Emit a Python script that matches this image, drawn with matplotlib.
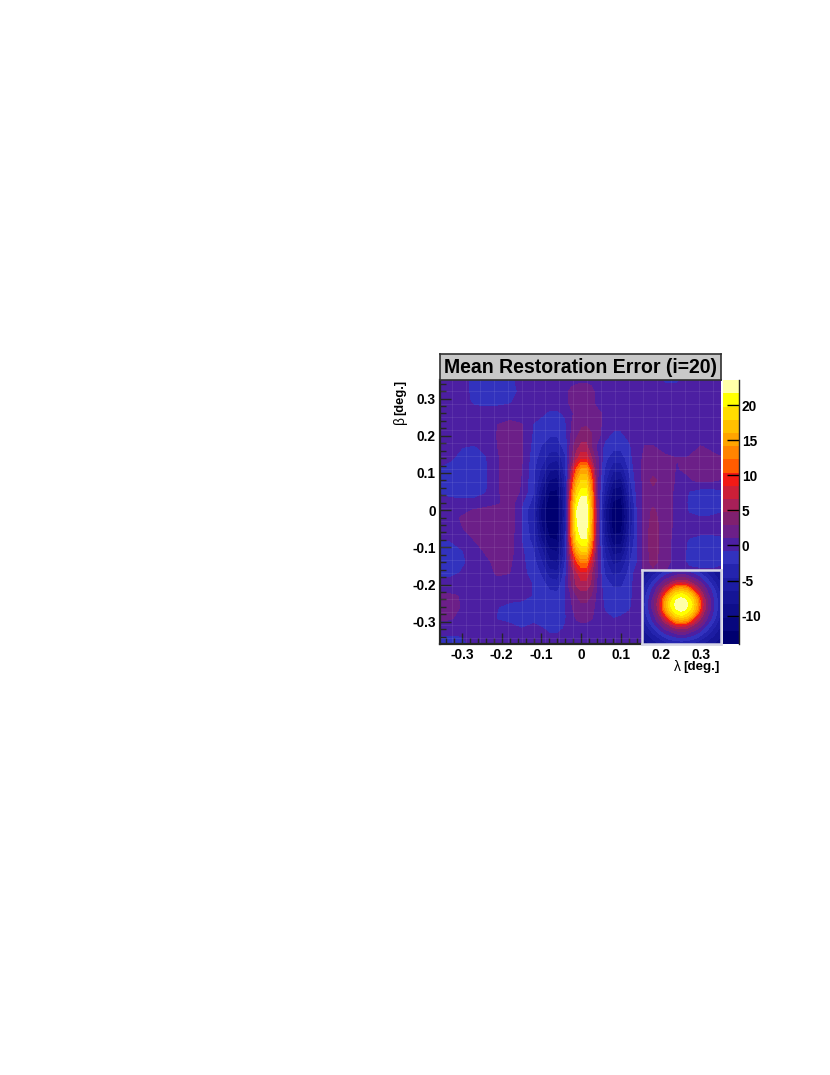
import numpy as np
import matplotlib
matplotlib.use('Agg')
import matplotlib.pyplot as plt
from matplotlib.colors import ListedColormap, BoundaryNorm

plt.rcParams['font.family'] = ['Liberation Sans', 'DejaVu Sans']
plt.rcParams['font.weight'] = 'bold'

W, H = 830, 1075

# colour bands of the palette, low to high
levels = [-14.05, -12.2, -10.3, -8.4, -6.5, -4.6, -2.7, -0.85, 1.0, 2.9, 4.8,
          6.67, 8.55, 10.4, 12.3, 14.2, 16.07, 17.95, 19.8, 21.7, 23.6]
band_colors = ['#000070', '#07077e', '#0e0e8a', '#151596', '#1c1ca2', '#2424ae',
               '#3232be', '#4c1fa2', '#6c1f88', '#80206f', '#a82058',
               '#cc1f38', '#f21a16', '#ff5c00', '#ff8400', '#ffa400', '#ffc000',
               '#ffdd00', '#ffff00', '#ffffa8']

lam = [-0.36, -0.33, -0.30, -0.27, -0.24, -0.21, -0.18, -0.15, -0.12, -0.10, -0.08,
       -0.06, -0.04, -0.025, -0.012, 0.0, 0.012, 0.025, 0.04, 0.06, 0.08, 0.10,
       0.12, 0.14, 0.16, 0.18, 0.21, 0.24, 0.27, 0.30, 0.33, 0.36]
beta = [0.35, 0.32, 0.29, 0.26, 0.23, 0.20, 0.17, 0.14, 0.11, 0.08, 0.05, 0.02, 0.0,
        -0.02, -0.05, -0.08, -0.11, -0.14, -0.17, -0.20, -0.23, -0.26, -0.29, -0.32, -0.36]

# mean error, one row per beta, top to bottom
error = [
    [0, 0, 0, -1.5, -1.8, -1.8, -1.5, 0, 0, 0, 0, 0, 0, 0, .3, .5, .5, .3, 0, 0, 0, 0, 0, 0, 0, 0, -1.2, -1.2, 0, 0, 0, 0],
    [0, 0, 0, -1.5, -1.8, -1.8, -1.5, -.5, 0, 0, 0, 0, .3, 1.6, 2, 2.2, 2.2, 1.6, .3, 0, 0, 0, 0, 0, 0, 0, 0, 0, 0, 0, 0, 0],
    [0, 0, 0, -1.2, -1.4, -1.3, -1, -.3, 0, 0, 0, 0, .3, 1.6, 2, 2.4, 2.4, 1.6, .3, 0, 0, 0, 0, 0, 0, 0, 0, 0, 0, 0, 0, 0],
    [0, 0, 0, 0, 0, 0, 0, 0, 0, -.6, -1.2, -1.2, -.6, .6, 1.6, 2.2, 2.4, 2.4, 1.6, .6, 0, 0, 0, 0, 0, 0, 0, 0, 0, 0, 0, 0],
    [0, 0, 0, 0, 0, 1.0, 1.6, 1.1, -1.0, -1.5, -1.8, -1.8, -1.2, 1, 1.8, 2.6, 2.8, 2.6, 1.8, .2, -.4, -.4, 0, 0, 0, 0, 0, 0, 0, 0, 0, 0],
    [0, 0, 0, 0, 0, 1.1, 1.8, 1.2, -1.2, -2, -2.6, -2.6, -1.6, 1.2, 2.6, 3.5, 3.6, 3, 1.8, -.5, -1.2, -1.2, -.5, 0, 0, 0, 0, 0, 0, 0, 0, 0],
    [0, 0, -.8, -1, -.5, 1.0, 1.9, 1.3, -1.6, -2.8, -3.8, -3.8, -2, 2, 4, 5.5, 5.5, 3, .5, -1.4, -2.2, -2.2, -1.2, 0, 1.1, 1.1, .3, 0, .2, 1.1, .6, 0],
    [0, -.6, -1.4, -1.5, -1, .8, 2, 1.2, -2, -3.6, -5.5, -6, -3, 2.5, 6, 8, 8, 5, 1.5, -2.2, -3.8, -3.8, -1.6, .3, 1.4, 1.8, 1.4, 1.0, 1.1, 1.6, 1.4, 1],
    [-1, -1.5, -1.9, -1.9, -1.2, .8, 2, 1, -2.2, -5, -8, -8.5, -3.5, 5, 11, 14.5, 14.5, 9, 1.5, -3, -6, -6, -2.4, .2, 1.6, 1.9, 1.6, .9, 1.3, 1.8, 1.8, 1.5],
    [-1.2, -1.7, -2, -2, -1.2, .8, 2, .9, -2.4, -6.5, -10.5, -11, -4, 7.5, 15, 18, 18, 12, 1.5, -4, -8.5, -9, -3.4, 0, 1.6, 3.4, 1.8, .8, .8, 1.4, 1.2, .7],
    [-1.1, -1.5, -1.9, -1.9, -1, .8, 2, .8, -2.6, -8.5, -12.3, -12.5, -4.5, 10, 18, 20.5, 20.5, 14, 1.5, -5.5, -11, -11.5, -4.5, -.3, 1.7, 2.4, 1.8, .6, -.9, -1.6, -1.6, -1],
    [0, -.3, -.3, -.3, 0, .6, 2, -.6, -3.5, -10, -13.3, -13.5, -5, 11.5, 20.5, 23, 23, 15, 2, -7, -12.5, -12.8, -6, -.7, 1.8, 2.4, 1.8, .5, -1.1, -1.8, -1.8, -1.2],
    [0, 0, .4, 1.1, 1.6, 2, 2.2, -1, -4.5, -11, -13.7, -13.7, -5, 12, 21.5, 23.5, 23.5, 16, 2, -8, -13.3, -13.3, -7, -1, 1.8, 3.2, 1.8, .5, -1, -1.6, -1.6, -1],
    [0, .2, 1.2, 1.9, 2.1, 2.3, 2.4, -1, -4.5, -11, -13.7, -13.7, -5, 12, 21.5, 23.5, 23.5, 16, 2, -8, -13.4, -13.4, -7.2, -1, 1.9, 3.4, 2, .5, -.6, -.8, -.6, -.3],
    [0, 0, .9, 1.7, 2.1, 2.3, 2.2, -1, -4, -10, -13.2, -13.3, -4.5, 12, 21, 23, 23, 15.5, 2, -7.5, -13, -12.8, -6.5, -1, 2, 3.8, 2, .3, 0, 0, 0, 0],
    [-.9, -.8, .2, 1, 1.8, 2.2, 2, -.9, -3.5, -8.5, -12, -12.3, -4, 11, 19.5, 21.5, 21.5, 14, 2, -6.5, -11.5, -11.2, -5.5, -1, 2, 3.8, 1.8, .2, -1.0, -1.6, -1.6, -1.2],
    [-1.5, -1.6, -1, .2, 1.2, 1.9, 1.7, -.5, -2.6, -6, -10, -10.5, -3, 8, 15, 18, 18, 11, 1.5, -5, -9, -9, -4, -1, 2, 3.8, 1.8, .2, -1.2, -1.8, -1.8, -1.4],
    [-1.8, -1.9, -1.2, -.2, .6, 1.5, 1.3, -.4, -2, -4.5, -8, -8.5, -2.5, 5, 10, 12.5, 12.5, 7.5, 1.5, -4, -7, -6.5, -3, -1, 1.8, 3.6, 1.6, .2, -1.2, -1.6, -1.6, -1.2],
    [-1.5, -1.4, -.7, 0, .4, 1.2, 1, -.4, -1.5, -3, -5.5, -6, -1.5, 3.5, 6, 8, 8, 5, 1, -3, -5, -4.5, -2.2, .2, 1.5, 2, 1, 0, -.3, -.3, -.3, 0],
    [0, 0, 0, 0, 0, .3, .3, 0, -1, -1.8, -3.5, -3.8, -1, 3, 5, 6, 6, 4.5, .6, -2, -3, -3, -1.6, 0, 0, 0, 0, 0, 0, 0, 0, 0],
    [1.2, 1.2, .9, 0, 0, 0, 0, -.2, -1, -1.4, -1.9, -2.1, -1, 1.2, 2.8, 3.8, 3.8, 2.8, .4, -1.4, -2, -2, -1.4, 0, 0, 0, 0, 0, 0, 0, 0, 0],
    [1.5, 1.5, .9, 0, 0, -.8, -1.4, -1.6, -1.7, -1.7, -1.7, -1.7, -1, .8, 1.8, 2.4, 2.4, 1.8, .3, -1.2, -1.6, -1.6, -1.2, 0, 0, 0, 0, 0, 0, 0, 0, 0],
    [1.3, 1.2, .5, 0, 0, -1, -1.6, -1.7, -1.7, -1.7, -1.7, -1.7, -1, .3, 1.2, 1.6, 1.6, 1.2, 0, -.4, -.9, -.7, -.3, 0, 0, 0, 0, 0, 0, 0, 0, 0],
    [0, 0, 0, 0, 0, -.2, 0, -.8, 0, -.7, -1.2, -1.2, -.7, 0, 0, 0, 0, 0, 0, 0, 0, 0, 0, 0, 0, 0, 0, 0, 0, 0, 0, 0],
    [-2, -2, -1.8, 0, 0, 0, 0, 0, 0, 0, 0, 0, 0, 0, 0, 0, 0, 0, 0, 0, 0, 0, 0, 0, 0, 0, 0, 0, 0, 0, 0, 0],
]

# one quadrant of the inset PSF, from the centre outwards
psf_quadrant = [
    [23.5, 22.3, 19.9, 15, 7, 2.9, -.6, -3.3, -5.9],
    [22.3, 21.4, 18.8, 14, 6.5, 2.4, -.8, -3.5, -6],
    [19.9, 18.8, 15.7, 9.5, 4.7, 1, -1.4, -4, -6.3],
    [15, 14, 9.5, 5.8, 2.9, -.1, -2.3, -5, -6.9],
    [7, 6.5, 4.7, 2.9, .3, -1.6, -4, -6, -7.7],
    [2.9, 2.4, 1, -.1, -1.6, -3.5, -5.4, -7, -8.5],
    [-.6, -.8, -1.4, -2.3, -4, -5.4, -6.8, -8.1, -9.2],
    [-3.3, -3.5, -4, -5, -6, -7, -8.1, -9, -10],
    [-5.9, -6, -6.3, -6.9, -7.7, -8.5, -9.2, -10, -10.5],
]
psf_offset = [0, 5.4, 10.8, 16.2, 21.6, 27, 32.4, 37.8, 43.2]

x_ticks = [-0.3, -0.2, -0.1, 0, 0.1, 0.2, 0.3]
y_ticks = [-0.3, -0.2, -0.1, 0, 0.1, 0.2, 0.3]
x_labels = ['-0.3', '-0.2', '-0.1', '0', '0.1', '0.2', '0.3']
y_labels = ['-0.3', '-0.2', '-0.1', '0', '0.1', '0.2', '0.3']
minor_ticks = [i / 100 for i in range(-34, 36, 2)]
bar_ticks = [-10, -5, 0, 5, 10, 15, 20]
bar_labels = ['-10', '-5', '0', '5', '10', '15', '20']
seam_x = [-0.325, -0.29, -0.255, -0.22, -0.185, -0.15, -0.12, -0.09, -0.055, -0.02, 0.015, 0.05, 0.085,
          0.12, 0.155, 0.19, 0.225, 0.26, 0.295, 0.33]
seam_y = [0.32, 0.285, 0.25, 0.215, 0.18, 0.145, 0.11, 0.075, 0.04, 0.005, -0.03, -0.065, -0.10, -0.135,
          -0.17, -0.205, -0.24, -0.275, -0.31, -0.345]


def box(left, top, right, bottom):
    return [left / W, 1 - bottom / H, (right - left) / W, (bottom - top) / H]


dark = '#262626'
cmap = ListedColormap(band_colors)
norm = BoundaryNorm(levels, cmap.N)
label_size = 9.9

fig = plt.figure(figsize=(W / 100, H / 100), dpi=100, facecolor='white')

ax = fig.add_axes(box(440, 380, 721, 644))
ax.contourf(lam, beta, error, levels=levels, colors=band_colors)
for v in seam_x:
    ax.axvline(v, color='white', lw=0.8, alpha=0.08)
for v in seam_y:
    ax.axhline(v, color='white', lw=0.8, alpha=0.08)
ax.set_xlim(-0.355, 0.351)
ax.set_ylim(-0.36, 0.35)
ax.set_xticks(x_ticks, x_labels, fontsize=label_size, fontweight='bold')
ax.set_yticks(y_ticks, y_labels, fontsize=label_size, fontweight='bold')
ax.set_xticks(minor_ticks, minor=True)
ax.set_yticks([m for m in minor_ticks if -0.36 < m < 0.35], minor=True)
ax.tick_params(which='major', direction='in', length=8, width=1, color=dark, labelcolor='black')
ax.tick_params(which='minor', direction='in', length=4, width=1, color=dark)
ax.tick_params(axis='y', which='major', pad=3)
ax.tick_params(axis='x', which='major', pad=3)
for s in ['top', 'right']:
    ax.spines[s].set_visible(False)
for s in ['left', 'bottom']:
    ax.spines[s].set_linewidth(1.6)
    ax.spines[s].set_color(dark)

fig.text(720 / W, 1 - 667 / H, '[deg.]', ha='right', va='center', fontsize=label_size - 0.3, fontweight='bold')
fig.text(681 / W, 1 - 667 / H, 'λ', ha='right', va='center', fontsize=label_size, fontweight='normal')
fig.text(400 / W, 1 - 380 / H, '[deg.]', ha='center', va='top', rotation=90, fontsize=label_size - 0.6, fontweight='bold')
fig.text(400 / W, 1 - 416 / H, 'β', ha='center', va='top', rotation=90, fontsize=label_size, fontweight='normal')

# title box
title = fig.add_axes(box(439.5, 353.5, 721, 380))
title.set_facecolor('#c8c8c8')
title.set_xticks([])
title.set_yticks([])
for s in title.spines.values():
    s.set_linewidth(1.2)
    s.set_color('#303030')
title.text(0.5, 0.47, 'Mean Restoration Error (i=20)', transform=title.transAxes,
           ha='center', va='center', fontsize=14.05, fontweight='bold', color='black')

# inset
inset = fig.add_axes(box(642, 570, 720.5, 644))
quad = np.array(psf_quadrant)
full = np.vstack([np.hstack([quad[::-1, ::-1], quad[::-1, 1:]]),
                  np.hstack([quad[1:, ::-1], quad[1:, 1:]])])
offs = np.array(psf_offset)
offs = np.concatenate([-offs[::-1], offs[1:]])
inset.contourf(offs, offs, full, levels=levels, colors=band_colors)
inset.set_xlim(-39.5, 39.5)
inset.set_ylim(-39.5, 34.5)
inset.set_xticks([])
inset.set_yticks([])
for s in inset.spines.values():
    s.set_linewidth(1.8)
    s.set_color('#d6d6e6')

# colour bar
cax = fig.add_axes(box(723, 380, 739, 644))
cax.pcolormesh([0, 1], levels, np.array(levels[:-1])[:, None] + 0.01, cmap=cmap, norm=norm)
cax.set_xticks([])
cax.set_ylim(levels[0], levels[-1])
cax.yaxis.tick_right()
cax.set_yticks(bar_ticks, bar_labels, fontsize=label_size, fontweight='bold')
cax.tick_params(axis='y', direction='in', length=9, width=1, color='black', pad=2)
for s in ['top', 'left', 'bottom']:
    cax.spines[s].set_visible(False)
cax.spines['right'].set_linewidth(1)
cax.spines['right'].set_color(dark)

fig.savefig('out.png', dpi=100)
